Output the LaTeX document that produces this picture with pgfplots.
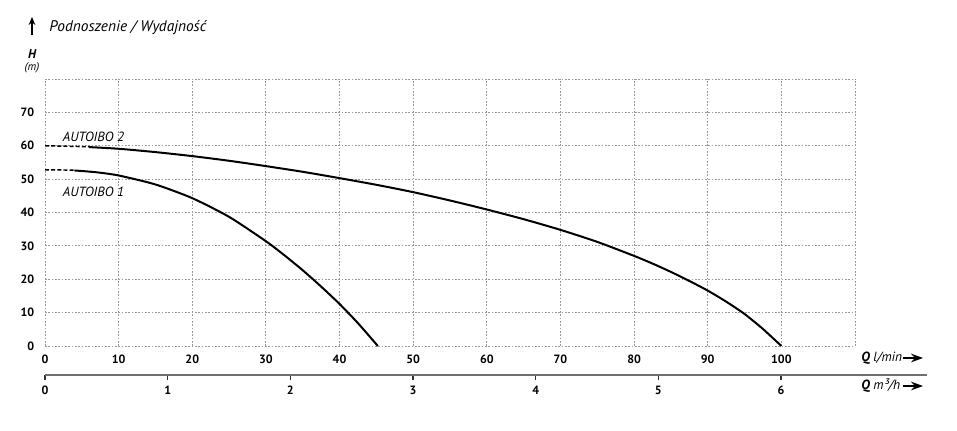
\documentclass[border=0pt]{standalone}
\usepackage{pgfplots}
\pgfplotsset{compat=1.18}
\usepackage{fontspec}
\setmainfont{PT Sans}
\usetikzlibrary{arrows.meta}
\definecolor{gridgray}{HTML}{9A9A9A}
\definecolor{axgray}{HTML}{707070}
\begin{document}
\begin{tikzpicture}
\useasboundingbox (0,0) rectangle (717.75pt,322.5pt);
\begin{axis}[
  at={(33.75pt,63pt)}, anchor=south west,
  scale only axis, width=607.5pt, height=200.25pt,
  xmin=0, xmax=110, ymin=0, ymax=80,
  axis line style={draw=none},
  major tick length=0pt,
  xtick={0,10,...,110}, ytick={0,10,...,80},
  xticklabels={0,10,20,30,40,50,60,70,80,90,100,},
  yticklabels={0,10,20,30,40,50,60,70,},
  grid=major,
  grid style={gridgray, line width=0.75pt, dash pattern=on 1.2pt off 1.3pt},
  /pgf/number format/assume math mode=true,
  tick label style={font=\fontsize{9}{10}\selectfont\bfseries},
  xticklabel style={yshift=-3pt},
  yticklabel style={xshift=-4.5pt},
  clip=false,
]
\addplot[black, line width=1.1pt, dash pattern=on 3pt off 1.6pt] coordinates {(0,60) (6,59.7)};
\addplot[black, line width=1.1pt, dash pattern=on 3pt off 1.6pt] coordinates {(0,52.8) (4,52.7)};
\addplot[black, line width=1.5pt, smooth, tension=0.4] coordinates {
  (6,59.6) (10,59.1) (15,58.1) (20,56.9) (25,55.5) (30,53.9) (35,52.2) (40,50.3) (45,48.3) (50,46.1)
  (55,43.6) (60,40.9) (65,38.0) (70,34.8) (75,31.2) (80,27.0) (82.5,24.7) (85,22.2) (87.5,19.5) (90,16.6)
  (92.5,13.3) (95,9.6) (97.5,5.1) (100,0)};
\addplot[black, line width=1.5pt, smooth, tension=0.4] coordinates {
  (4,52.6) (7,52.05) (10,51.1) (15,48.4) (20,44.3) (25,38.7) (30,31.4) (32.5,27.2) (35,22.7) (37.5,17.8)
  (40,12.6) (42.5,6.85) (45.2,0)};
\node[anchor=west, inner sep=0pt, font=\fontsize{10}{12}\selectfont\itshape] at (axis cs:2.4,62.6) {AUTOIBO 2};
\node[anchor=west, inner sep=0pt, font=\fontsize{10}{12}\selectfont\itshape] at (axis cs:2.4,46.1) {AUTOIBO 1};
\end{axis}
\begin{axis}[
  at={(33.75pt,41.25pt)}, anchor=south west,
  scale only axis, width=661.5pt, height=1pt,
  xmin=0, xmax=7.19, ymin=0, ymax=1,
  axis x line=bottom, axis y line=none,
  axis line style={-, axgray, line width=1.1pt},
  xtick={0,1,...,6},
  tick align=outside, major tick length=4pt,
  tick style={black!80, line width=0.9pt},
  /pgf/number format/assume math mode=true,
  tick label style={font=\fontsize{9}{10}\selectfont\bfseries},
  xticklabel style={yshift=-1pt},
]
\end{axis}
\draw[-{Stealth[length=6pt,width=5pt]}, line width=0.8pt] (24pt,296.25pt) -- (24pt,309.75pt);
\node[anchor=west, inner sep=0pt, font=\fontsize{11.5}{13}\selectfont\itshape] at (36.75pt,301.5pt) {Podnoszenie / Wydajność};
\node[inner sep=0pt, font=\fontsize{9.5}{11}\selectfont\bfseries\itshape] at (24pt,282pt) {H};
\node[inner sep=0pt, font=\fontsize{8.5}{10}\selectfont\itshape] at (24pt,272pt) {(m)};
\node[anchor=west, inner sep=0pt, font=\fontsize{10}{12}\selectfont\itshape] at (645.75pt,54pt) {\textbf{Q} l/min};
\draw[-{Stealth[length=9pt,width=6.5pt]}, line width=0.9pt] (677pt,54pt) -- (692.25pt,54pt);
\node[anchor=west, inner sep=0pt, font=\fontsize{10}{12}\selectfont\itshape] at (645.75pt,33pt) {\textbf{Q} m³/h};
\draw[-{Stealth[length=9pt,width=6.5pt]}, line width=0.9pt] (677pt,33pt) -- (692.25pt,33pt);
\end{tikzpicture}
\end{document}
